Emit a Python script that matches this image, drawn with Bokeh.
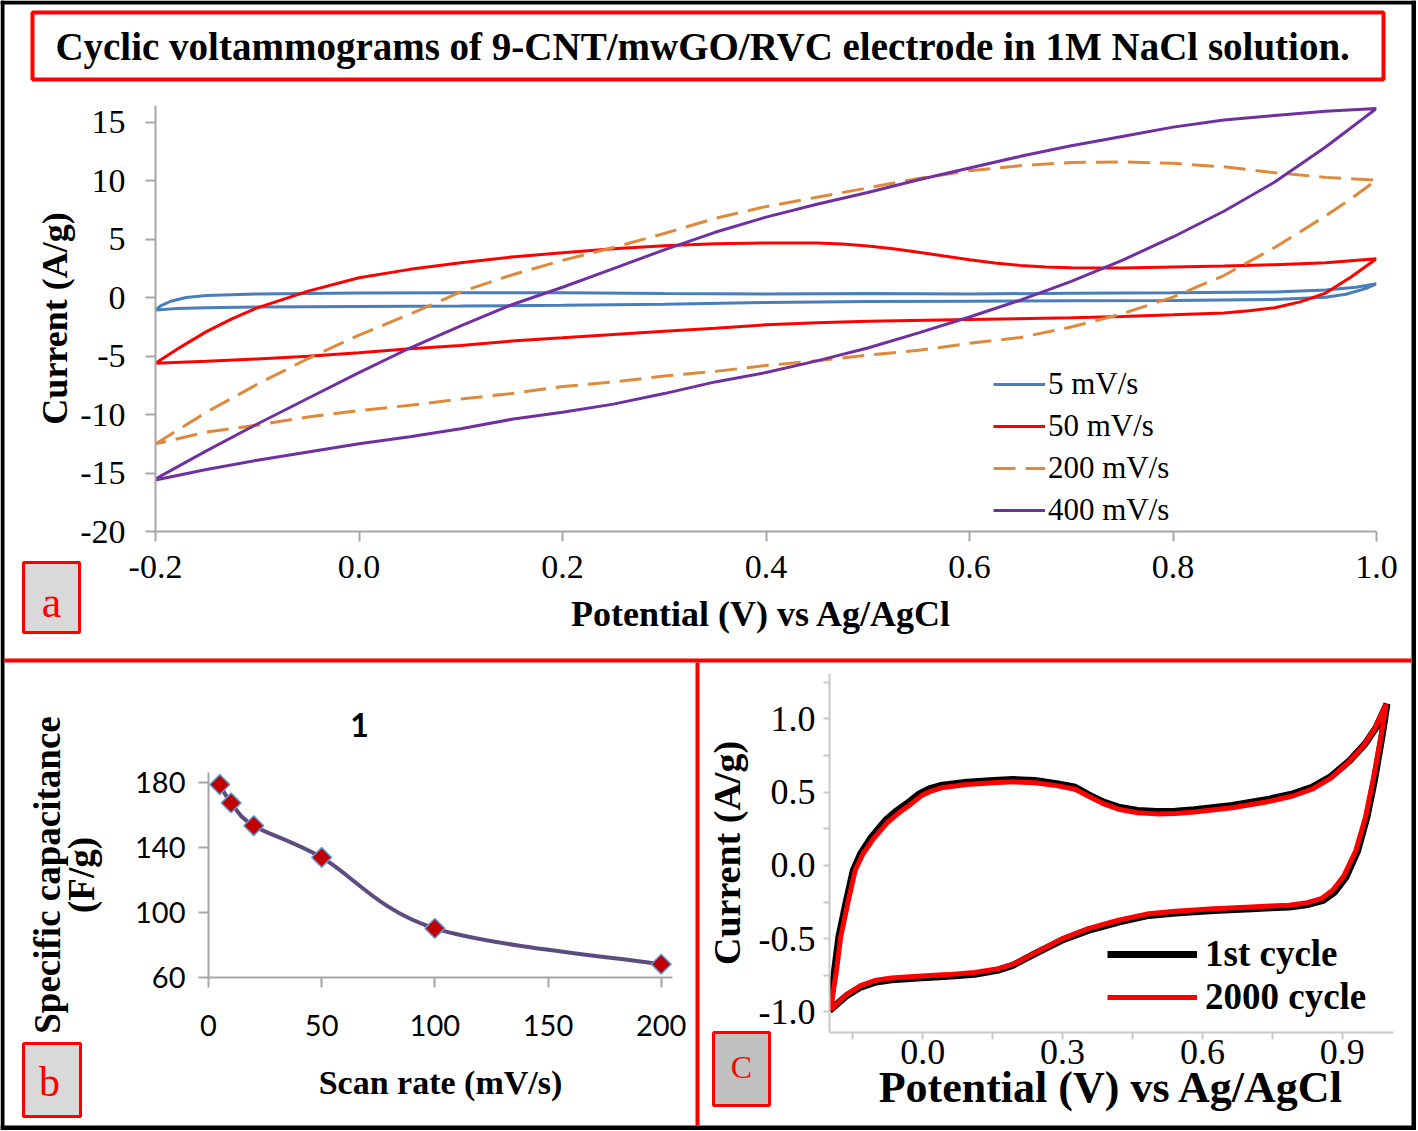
import numpy as np
from bokeh.plotting import figure
from bokeh.layouts import column, row
from bokeh.models import (Range1d, FixedTicker, PrintfTickFormatter, Legend, LegendItem)
from bokeh.core.properties import value
from bokeh.embed import file_html
from bokeh.resources import INLINE

SERIF = "Liberation Serif"
SANS = "Lato"

# ---------------- panel a : CVs at several scan rates ----------------
title_text = "Cyclic voltammograms  of 9-CNT/mwGO/RVC electrode in 1M NaCl solution."
series_a = ["5 mV/s", "50 mV/s", "200 mV/s", "400 mV/s"]
x_ticks_a = [-0.2, 0.0, 0.2, 0.4, 0.6, 0.8, 1.0]
y_ticks_a = [-20, -15, -10, -5, 0, 5, 10, 15]

pot_5 = [-0.2, -0.195, -0.185, -0.17, -0.15, -0.1, 0.0, 0.1, 0.2, 0.3, 0.4, 0.5, 0.6, 0.7, 0.8, 0.9, 0.95, 0.98, 1.0,
         0.99, 0.97, 0.95, 0.9, 0.8, 0.7, 0.6, 0.5, 0.4, 0.3, 0.2, 0.1, 0.0, -0.1, -0.15, -0.18, -0.2]
cur_5 = [-1.05, -0.7, -0.3, 0.02, 0.2, 0.33, 0.4, 0.43, 0.43, 0.36, 0.33, 0.36, 0.33, 0.38, 0.42, 0.5, 0.66, 0.9, 1.2,
         0.8, 0.3, 0.05, -0.14, -0.23, -0.26, -0.29, -0.33, -0.4, -0.55, -0.65, -0.7, -0.74, -0.8, -0.86, -0.93, -1.05]

pot_50 = [-0.2, -0.175, -0.15, -0.125, -0.1, -0.05, 0.0, 0.05, 0.1, 0.15, 0.2, 0.25, 0.3, 0.35, 0.4, 0.45, 0.475,
          0.5, 0.525, 0.55, 0.575, 0.6, 0.625, 0.65, 0.675, 0.7, 0.75, 0.8, 0.85, 0.9, 0.95, 1.0,
          0.975, 0.95, 0.925, 0.9, 0.875, 0.85, 0.8, 0.75, 0.7, 0.6, 0.5, 0.45, 0.4, 0.35, 0.3, 0.25, 0.2, 0.15,
          0.1, 0.05, 0.0, -0.05, -0.1, -0.15, -0.2]
cur_50 = [-5.6, -4.2, -2.9, -1.8, -0.86, 0.57, 1.71, 2.43, 3.0, 3.49, 3.86, 4.2, 4.46, 4.63, 4.69, 4.69, 4.6,
          4.43, 4.2, 3.9, 3.57, 3.26, 2.98, 2.77, 2.64, 2.57, 2.54, 2.63, 2.71, 2.83, 3.0, 3.34,
          1.77, 0.4, -0.35, -0.85, -1.12, -1.3, -1.46, -1.6, -1.71, -1.86, -2.0, -2.14, -2.31, -2.6, -2.86, -3.14,
          -3.43, -3.71, -4.09, -4.37, -4.71, -5.0, -5.23, -5.43, -5.6]

pot_200 = [-0.2, -0.15, -0.1, -0.05, 0.0, 0.05, 0.1, 0.15, 0.2, 0.25, 0.3, 0.35, 0.4, 0.45, 0.5, 0.55, 0.6, 0.65,
           0.7, 0.75, 0.8, 0.85, 0.9, 0.95, 1.0,
           0.977, 0.95, 0.9, 0.85, 0.8, 0.75, 0.7, 0.65, 0.6, 0.55, 0.5, 0.45, 0.4, 0.35, 0.3, 0.25, 0.2, 0.15,
           0.1, 0.05, 0.0, -0.05, -0.1, -0.15, -0.2]
cur_200 = [-12.5, -9.8, -7.4, -5.2, -3.2, -1.4, 0.5, 1.95, 3.2, 4.3, 5.5, 6.8, 7.8, 8.6, 9.4, 10.2, 10.86, 11.3,
           11.57, 11.63, 11.5, 11.2, 10.7, 10.3, 10.06,
           8.6, 7.0, 4.3, 1.9, 0.06, -1.37, -2.5, -3.4, -3.9, -4.5, -4.9, -5.4, -5.8, -6.3, -6.7, -7.2, -7.6,
           -8.2, -8.66, -9.2, -9.66, -10.2, -10.9, -11.5, -12.5]

pot_400 = [-0.2, -0.15, -0.1, -0.05, 0.0, 0.05, 0.1, 0.15, 0.2, 0.25, 0.3, 0.35, 0.4, 0.45, 0.5, 0.55, 0.6, 0.65,
           0.7, 0.75, 0.8, 0.85, 0.9, 0.95, 1.0,
           0.95, 0.9, 0.85, 0.8, 0.75, 0.7, 0.65, 0.6, 0.55, 0.5, 0.45, 0.4, 0.35, 0.3, 0.25, 0.2, 0.15, 0.1,
           0.05, 0.0, -0.05, -0.1, -0.15, -0.2]
cur_400 = [-15.5, -13.1, -10.8, -8.6, -6.4, -4.3, -2.4, -0.6, 0.9, 2.5, 4.1, 5.6, 6.9, 8.0, 9.0, 10.1, 11.1, 12.1,
           13.0, 13.8, 14.6, 15.2, 15.6, 15.95, 16.2,
           12.9, 9.9, 7.4, 5.2, 3.2, 1.4, -0.2, -1.65, -3.0, -4.3, -5.4, -6.4, -7.2, -8.2, -9.1, -9.8, -10.4,
           -11.2, -11.9, -12.5, -13.2, -13.9, -14.7, -15.6]

# ---------------- panel b : capacitance vs scan rate ----------------
panel_b_title = "1"
scan_rate = [5, 10, 20, 50, 100, 200]
capacitance = [178.6, 167.3, 153.3, 133.8, 90.2, 68.2]
x_ticks_b = [0, 50, 100, 150, 200]
y_ticks_b = [60, 100, 140, 180]

# ---------------- panel c : cycling stability ----------------
series_c = ["1st cycle", "2000 cycle"]
x_ticks_c = [0.0, 0.3, 0.6, 0.9]
x_minor_c = [-0.15, 0.15, 0.45, 0.75]
y_ticks_c = [-1.0, -0.5, 0.0, 0.5, 1.0]
y_minor_c = [-0.75, -0.25, 0.25, 0.75, 1.25]

pot_1st = [-0.2, -0.189, -0.18, -0.165, -0.149, -0.133, -0.11, -0.08, -0.055, -0.035, -0.007, 0.014, 0.038, 0.095,
           0.152, 0.193, 0.241, 0.29, 0.327, 0.355, 0.388, 0.42, 0.461, 0.502, 0.542, 0.583, 0.664, 0.737, 0.794,
           0.835, 0.876, 0.916, 0.949, 0.973, 0.996,
           0.985, 0.969, 0.953, 0.933, 0.908, 0.884, 0.859, 0.827, 0.786, 0.746, 0.705, 0.624, 0.542, 0.485, 0.42,
           0.355, 0.298, 0.241, 0.193, 0.16, 0.111, 0.054, -0.002, -0.067, -0.1, -0.133, -0.165, -0.2]
cur_1st = [-0.99, -0.716, -0.489, -0.261, -0.034, 0.08, 0.193, 0.307, 0.375, 0.42, 0.489, 0.523, 0.545, 0.568,
           0.58, 0.586, 0.58, 0.557, 0.534, 0.484, 0.432, 0.398, 0.375, 0.368, 0.37, 0.38, 0.409, 0.448, 0.489,
           0.534, 0.607, 0.716, 0.83, 0.943, 1.102,
           0.875, 0.58, 0.33, 0.1, -0.08, -0.18, -0.239, -0.266, -0.284, -0.289, -0.295, -0.307, -0.325, -0.341,
           -0.386, -0.443, -0.511, -0.602, -0.682, -0.716, -0.743, -0.757, -0.766, -0.78, -0.795, -0.83, -0.893,
           -0.99]

pot_2000 = [-0.198, -0.185, -0.176, -0.161, -0.145, -0.128, -0.105, -0.075, -0.05, -0.03, -0.003, 0.018, 0.04,
            0.095, 0.152, 0.193, 0.241, 0.29, 0.327, 0.357, 0.39, 0.42, 0.461, 0.502, 0.542, 0.583, 0.664, 0.737,
            0.794, 0.835, 0.874, 0.913, 0.946, 0.97, 0.994,
            0.983, 0.966, 0.95, 0.929, 0.904, 0.88, 0.855, 0.825, 0.786, 0.746, 0.705, 0.624, 0.542, 0.485, 0.42,
            0.355, 0.3, 0.245, 0.197, 0.163, 0.111, 0.054, -0.002, -0.067, -0.1, -0.132, -0.163, -0.198]
cur_2000 = [-0.985, -0.716, -0.489, -0.261, -0.034, 0.08, 0.185, 0.295, 0.362, 0.407, 0.475, 0.508, 0.53, 0.553,
            0.565, 0.571, 0.565, 0.543, 0.52, 0.47, 0.418, 0.384, 0.36, 0.352, 0.355, 0.365, 0.394, 0.433, 0.474,
            0.52, 0.593, 0.703, 0.818, 0.935, 1.1,
            0.875, 0.58, 0.33, 0.1, -0.068, -0.168, -0.227, -0.254, -0.272, -0.277, -0.283, -0.295, -0.313,
            -0.329, -0.374, -0.431, -0.499, -0.59, -0.67, -0.704, -0.731, -0.745, -0.754, -0.768, -0.783, -0.818,
            -0.88, -0.985]


def base_axes(p, color, width, tick_out, font, size):
    for ax in (p.xaxis, p.yaxis):
        ax.axis_line_color = color
        ax.axis_line_width = width
        ax.major_tick_line_color = color
        ax.major_tick_line_width = width
        ax.minor_tick_line_color = color
        ax.minor_tick_line_width = width
        ax.major_tick_out = tick_out
        ax.major_tick_in = 0
        ax.minor_tick_out = 0
        ax.minor_tick_in = 0
        ax.major_label_text_font = font
        ax.major_label_text_font_size = size
        ax.major_label_text_color = "black"
        ax.axis_label_text_font = SERIF
        ax.axis_label_text_font_style = "bold"
        ax.axis_label_text_color = "black"
    p.grid.visible = False
    p.outline_line_color = None


W, H = 1416, 1130          # whole page
TOP_H = 660                # height of the upper band (panel a)
BOT_H = H - TOP_H          # height of the lower band (panels b, c)
B_W = 697                  # width of panel b

# ================= figure a =================
pa = figure(width=W, height=TOP_H, x_range=Range1d(-0.2, 1.0), y_range=Range1d(-20, 16.45),
            output_backend="svg", toolbar_location=None,
            min_border_left=155, min_border_right=40, min_border_top=105, min_border_bottom=129,
            background_fill_color="white", border_fill_color="white")
base_axes(pa, "#a6a6a6", 2, 10, SERIF, "34px")
pa.xaxis.ticker = FixedTicker(ticks=x_ticks_a)
pa.xaxis.formatter = PrintfTickFormatter(format="%.1f")
pa.yaxis.ticker = FixedTicker(ticks=y_ticks_a)
pa.yaxis.formatter = PrintfTickFormatter(format="%d")
pa.xaxis.major_label_standoff = 14
pa.yaxis.major_label_standoff = 20
pa.xaxis.axis_label = "Potential  (V) vs Ag/AgCl"
pa.yaxis.axis_label = "Current (A/g)"
pa.xaxis.axis_label_text_font_size = "36px"
pa.yaxis.axis_label_text_font_size = "36px"
pa.xaxis.axis_label_standoff = 13
pa.yaxis.axis_label_standoff = 2

r5 = pa.line(pot_5, cur_5, line_color="#4A7EBB", line_width=3)
r50 = pa.line(pot_50, cur_50, line_color="#FF0000", line_width=3)
r200 = pa.line(pot_200, cur_200, line_color="#E0893B", line_width=3, line_dash="22 10")
r400 = pa.line(pot_400, cur_400, line_color="#7030A0", line_width=3)

leg_a = Legend(items=[LegendItem(label=lab, renderers=[r]) for lab, r in zip(series_a, [r5, r50, r200, r400])],
               location=(838, 0), glyph_width=52, glyph_height=42, label_height=42, label_standoff=3,
               spacing=0, padding=0, margin=0, border_line_color=None, background_fill_alpha=0,
               label_text_font=SERIF, label_text_font_size="31px", label_text_color="black")
pa.add_layout(leg_a)

# ================= figure b =================
pb = figure(width=B_W, height=BOT_H, x_range=Range1d(0, 205), y_range=Range1d(60, 186),
            output_backend="svg", toolbar_location=None,
            min_border_left=208, min_border_right=25, min_border_top=112, min_border_bottom=153,
            background_fill_color="white", border_fill_color="white")
base_axes(pb, "#a6a6a6", 2, 10, SANS, "29px")
pb.xaxis.ticker = FixedTicker(ticks=x_ticks_b)
pb.yaxis.ticker = FixedTicker(ticks=y_ticks_b)
pb.xaxis.formatter = PrintfTickFormatter(format="%d")
pb.yaxis.formatter = PrintfTickFormatter(format="%d")
pb.xaxis.major_label_standoff = 27
pb.yaxis.major_label_standoff = 13
pb.xaxis.axis_label = "Scan rate (mV/s)"
pb.yaxis.axis_label = "Specific capacitance\n(F/g)"
pb.xaxis.axis_label_text_font_size = "34px"
pb.yaxis.axis_label_text_font_size = "37px"
pb.yaxis.axis_label_text_line_height = 0.84
pb.xaxis.axis_label_standoff = 25
pb.yaxis.axis_label_standoff = 30

# smoothed connecting line (Catmull-Rom Bezier through the measured points)
xs = np.array(scan_rate, dtype=float)
ys = np.array(capacitance, dtype=float)
qx = np.concatenate([[xs[0]], xs, [xs[-1]]])
qy = np.concatenate([[ys[0]], ys, [ys[-1]]])
i = np.arange(len(xs) - 1)
pb.bezier(x0=qx[i + 1], y0=qy[i + 1], x1=qx[i + 2], y1=qy[i + 2],
          cx0=qx[i + 1] + (qx[i + 2] - qx[i]) / 6, cy0=qy[i + 1] + (qy[i + 2] - qy[i]) / 6,
          cx1=qx[i + 2] - (qx[i + 3] - qx[i + 1]) / 6, cy1=qy[i + 2] - (qy[i + 3] - qy[i + 1]) / 6,
          line_color="#5C4C80", line_width=4)
pb.scatter(scan_rate, capacitance, marker="square", angle=np.pi / 4, size=14,
           fill_color="#C00000", line_color="#5B9BD5", line_width=1.5)

# ================= figure c =================
pc = figure(width=W - B_W, height=BOT_H, x_range=Range1d(-0.2, 1.01), y_range=Range1d(-1.14, 1.31),
            output_backend="svg", toolbar_location=None,
            min_border_left=132, min_border_right=23, min_border_top=13, min_border_bottom=98,
            background_fill_color="white", border_fill_color="white")
base_axes(pc, "#c8c8c8", 2, 7, SERIF, "36px")
pc.xaxis.ticker = FixedTicker(ticks=x_ticks_c, minor_ticks=x_minor_c)
pc.yaxis.ticker = FixedTicker(ticks=y_ticks_c, minor_ticks=y_minor_c)
pc.xaxis.minor_tick_out = 7
pc.yaxis.major_tick_out = 6
pc.yaxis.minor_tick_out = 6
pc.xaxis.formatter = PrintfTickFormatter(format="%.1f")
pc.yaxis.formatter = PrintfTickFormatter(format="%.1f")
pc.xaxis.major_label_standoff = 0
pc.yaxis.major_label_standoff = 8
pc.xaxis.axis_label = "Potential (V) vs Ag/AgCl"
pc.yaxis.axis_label = "Current (A/g)"
pc.xaxis.axis_label_text_font_size = "44px"
pc.yaxis.axis_label_text_font_size = "38px"
pc.xaxis.axis_label_standoff = -4
pc.yaxis.axis_label_standoff = 8

rc1 = pc.line(pot_1st, cur_1st, line_color="black", line_width=7)
rc2 = pc.line(pot_2000, cur_2000, line_color="#FF0000", line_width=5)
leg_c = Legend(items=[LegendItem(label=lab, renderers=[r]) for lab, r in zip(series_c, [rc1, rc2])],
               location=(278, 14), glyph_width=90, glyph_height=40, label_height=40, label_standoff=8,
               spacing=0, padding=0, margin=0, border_line_color=None, background_fill_alpha=0,
               label_text_font=SERIF, label_text_font_size="37px", label_text_font_style="bold",
               label_text_color="black")
pc.add_layout(leg_c)

# ================= decoration overlay (page frame, dividers, title box, panel tags) =================
deco = figure(width=W, height=H, x_range=Range1d(0, W), y_range=Range1d(H, 0),
              output_backend="svg", toolbar_location=None, min_border=0,
              x_axis_location=None, y_axis_location=None, outline_line_color=None,
              background_fill_alpha=0, border_fill_alpha=0)
deco.grid.visible = False
# outer black frame
deco.quad(left=[0, 0, W - 5, 0], right=[W, 4, W, W], top=[0, 0, 0, H - 5], bottom=[4, H, H, H],
          fill_color="black", line_color=None)
# red dividers between the panels
deco.quad(left=[4, 695], right=[W - 5, 699], top=[658, 662], bottom=[662, H - 5],
          fill_color="#FF0000", line_color=None)
# title box
deco.quad(left=[32], right=[1383], top=[12], bottom=[79], fill_color=None, line_color="#FF0000", line_width=4)
deco.text(x=[707], y=[46], text=[title_text], text_font=value(SERIF), text_font_size="39px",
          text_font_style="bold", text_align="center", text_baseline="middle", text_color="black")
# panel tags
deco.quad(left=[23, 23, 713], right=[79, 80, 769], top=[562, 1043, 1032], bottom=[632, 1116, 1105],
          fill_color=["#d9d9d9", "#d9d9d9", "#c0c0c0"], line_color="#FF0000", line_width=3)
deco.text(x=[51], y=[602], text=["a"], text_font=value(SERIF), text_font_size="44px",
          text_align="center", text_baseline="middle", text_color="#FF0000")
deco.text(x=[49], y=[1081], text=["b"], text_font=value(SERIF), text_font_size="42px",
          text_align="center", text_baseline="middle", text_color="#FF0000")
deco.text(x=[741], y=[1066], text=["C"], text_font=value(SERIF), text_font_size="32px",
          text_align="center", text_baseline="middle", text_color="#FF0000")
# panel b heading
deco.text(x=[359], y=[724], text=[panel_b_title], text_font=value(SANS), text_font_size="32px",
          text_font_style="bold", text_align="center", text_baseline="middle", text_color="black")

layout = column(pa, row(column(pb), column(pc)), column(deco, margin=(-H, 0, 0, 0)))
open("out.html", "w").write(file_html(layout, INLINE))
